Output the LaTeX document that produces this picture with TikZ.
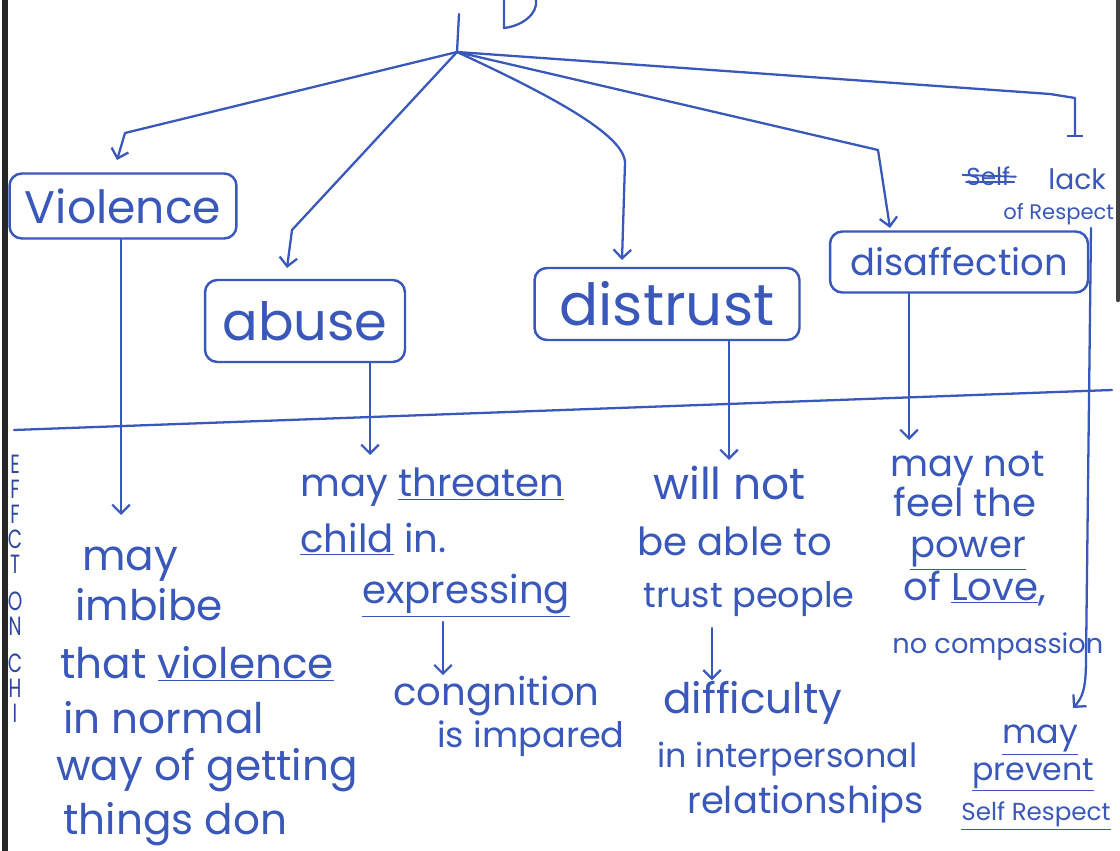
\documentclass[tikz,border=0pt]{standalone}
\usepackage{fontspec}
\setmainfont{Poppins}
\usetikzlibrary{arrows.meta}
\definecolor{ink}{RGB}{58,88,186}
\definecolor{darkink}{RGB}{45,70,160}
\begin{document}
\begin{tikzpicture}[x=0.02cm,y=-0.02cm, line cap=round, line join=round,
  inkline/.style={draw=ink, line width=1.3pt},
  arr/.style={inkline, -{Straight Barb[length=5pt,width=10pt]}},
  barend/.style={inkline, -{Bar[width=9pt]}},
  box/.style={draw=ink, line width=1.4pt, rounded corners=7pt, text=ink, inner sep=0pt},
  eff/.style={text=ink, anchor=base west, inner sep=0pt, font=\fontsize{#1}{#1}\selectfont},
  eff/.default=19,
  sidel/.style={text=darkink, inner sep=0pt, xscale=0.7, align=center, font=\fontsize{15}{14.2}\selectfont},
  ul/.style={draw=ink, line width=1.1pt}]
\useasboundingbox[fill=white] (0,0) rectangle (1120,851);

% scan edges
\draw[black!85, line width=3pt] (5,0) -- (5,851);
\draw[black!75, line width=2.5pt] (1118,0) -- (1118,300);

% partial letter at top
\draw[inkline] (504,0) -- (504,28) .. controls (522,26) and (538,14) .. (536,0);

% root
\coordinate (roottop) at (459,14);
\coordinate (hub) at (457,52);
\draw[inkline] (roottop) -- (hub);

% boxes
\node[box, minimum width=4.54cm, minimum height=1.3cm, font=\fontsize{26}{26}\selectfont] (violence) at (123,206) {Violence};
\node[box, minimum width=4cm, minimum height=1.64cm, font=\fontsize{30}{30}\selectfont] (abuse) at (305,321) {abuse};
\node[box, minimum width=5.3cm, minimum height=1.44cm, font=\fontsize{33}{33}\selectfont] (distrust) at (667,304) {distrust};
\node[box, minimum width=5.16cm, minimum height=1.22cm, font=\fontsize{21}{21}\selectfont] (disaff) at (959,262) {disaffection};

% lack of respect
\node[text=ink, inner sep=0pt, anchor=base west, font=\fontsize{14}{14}\selectfont] (selfw) at (966,186) {Self};
\draw[ul] ([xshift=-2pt,yshift=1pt]selfw.west) -- ([xshift=3pt]selfw.east);
\draw[ul] ([yshift=-3pt]selfw.west) -- ([yshift=-3pt,xshift=2pt]selfw.east);
\node[text=ink, inner sep=0pt, anchor=base west, font=\fontsize{16}{16}\selectfont] (lackw) at (1048,190) {lack};
\node[text=ink, inner sep=0pt, anchor=base west, font=\fontsize{12}{12}\selectfont] (ofresp) at (1003,220) {of Respect};

% branches from root
\coordinate (vb) at (125,133);
\coordinate (vt) at (117,160);
\draw[arr] (hub) -- (vb) -- (vt);

\coordinate (ab) at (292,230);
\coordinate (at) at (287,268);
\draw[arr] (hub) -- (ab) -- (at);

\coordinate (db) at (625,163);
\coordinate (dt) at (622,260);
\draw[arr] (hub) .. controls (550,95) and (625,135) .. (db) -- (dt);

\coordinate (fb) at (878,150);
\coordinate (ft) at (890,228);
\draw[arr] (hub) -- (fb) -- (ft);

\coordinate (lb1) at (1050,94);
\coordinate (lb2) at (1075,98);
\coordinate (lt) at (1075,137);
\draw[barend] (hub) -- (lb1) -- (lb2) -- (lt);

% divider
\coordinate (divL) at (14,430);
\coordinate (divR) at (1112,390);
\draw[inkline] (divL) -- (divR);

% side label
\node[sidel] (side) at (15,589) {E\\F\\F\\C\\T\\[7pt]O\\N\\[7pt]C\\H\\I};

% effect arrows
\coordinate (vEnd) at (121,515);
\draw[arr] (violence.south -| vEnd) -- (vEnd);
\coordinate (aEnd) at (370,455);
\draw[arr] (abuse.south -| aEnd) -- (aEnd);
\coordinate (dEnd) at (729,460);
\draw[arr] (distrust.south -| dEnd) -- (dEnd);
\coordinate (fEnd) at (909,440);
\draw[arr] (disaff.south -| fEnd) -- (fEnd);
\coordinate (lS) at (1091,228);
\coordinate (lM) at (1086,660);
\coordinate (lEnd) at (1073,708);
\draw[arr] (lS) -- (lM) .. controls (1086,690) and (1082,698) .. (lEnd);

% effects: violence
\node[eff=24] (v1) at (82,570) {may};
\node[eff=24] (v2) at (75,620) {imbibe};
\node[eff=24] (v3) at (60,678) {that \underline{violence}};
\node[eff=24] (v4) at (63,733) {in normal};
\node[eff=24] (v5) at (56,780) {way of getting};
\node[eff=24] (v6) at (63,834) {things don};

% effects: abuse
\node[eff=22] (a1) at (300,497) {may \underline{threaten}};
\node[eff=22] (a2) at (300,552) {\underline{child} in.};
\node[eff=22] (a3) at (362,603) {\underline{expressing}};
\coordinate (a3b) at (443,622);
\node[eff=22] (a4) at (393,705) {congnition};
\draw[arr] (a3b) -- (a4.north -| a3b);
\node[eff=20] (a5) at (437,747) {is impared};

% effects: distrust
\node[eff=25] (d1) at (653,500) {will not};
\node[eff=22] (d2) at (637,555) {be able to};
\node[eff=20] (d3) at (643,607) {trust people};
\coordinate (d3b) at (712,628);
\node[eff=24] (d4) at (663,713) {difficulty};
\draw[arr] (d3b) -- (d4.north -| d3b);
\node[eff=19] (d5) at (657,767) {in interpersonal};
\node[eff=21] (d6) at (687,813) {relationships};

% effects: disaffection
\node[eff=21] (f1) at (890,477) {may not};
\node[eff=22] (f2) at (893,517) {feel the};
\node[eff=21] (f3) at (910,557) {\underline{power}};
\node[eff=22] (f4) at (903,600) {of \underline{Love},};
\node[eff=15.5] (f5) at (892,653) {no compassion};

% effects: lack of respect
\node[eff=19] (l1) at (1002,743) {\underline{may}};
\node[eff=18] (l2) at (972,780) {\underline{prevent}};
\node[eff=14] (l3) at (961,820) {\underline{Self Respect}};
\end{tikzpicture}
\end{document}
